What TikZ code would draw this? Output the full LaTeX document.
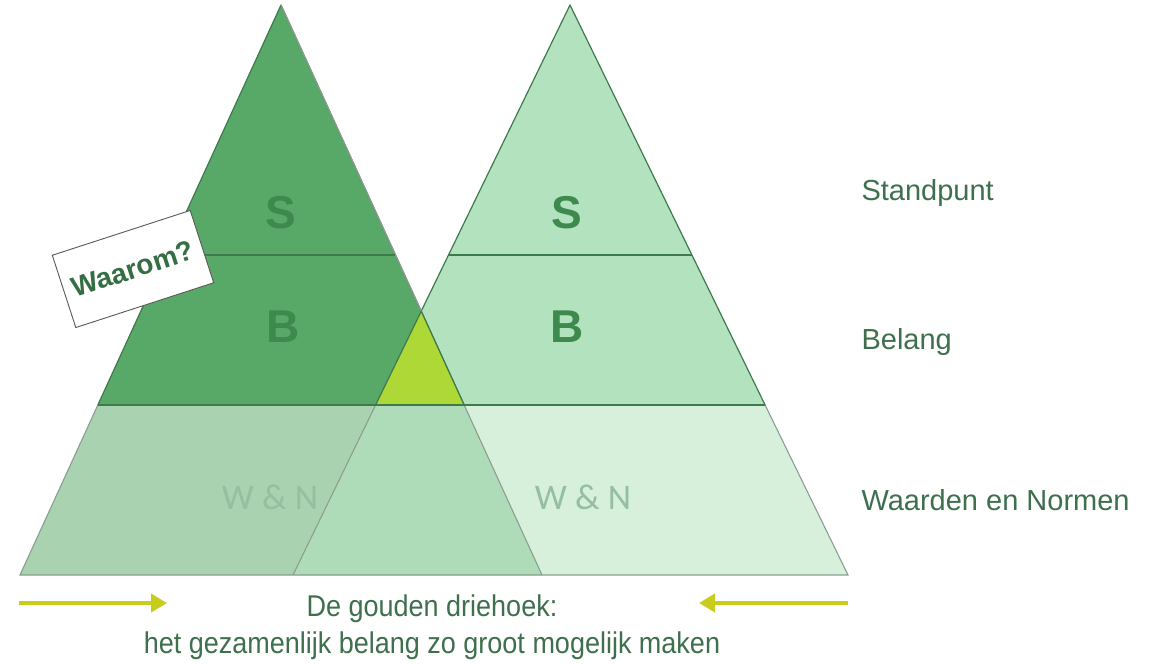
\documentclass[tikz,border=0pt]{standalone}
\usepackage{fontspec}
\setmainfont{Liberation Sans}
\newfontfamily\calibri{Carlito}
\usepackage{tikz}
\usetikzlibrary{arrows.meta,shapes,positioning,calc}
\usepackage{xcolor}
\definecolor{dgdark}{RGB}{88,168,104}
\definecolor{dglight}{RGB}{178,226,190}
\definecolor{dgpale}{RGB}{214,240,220}
\definecolor{dgmid}{RGB}{168,210,176}
\definecolor{dgover}{RGB}{174,220,184}
\definecolor{dggold}{RGB}{174,216,54}
\definecolor{dgline}{RGB}{63,122,76}
\definecolor{dggrey}{RGB}{140,158,145}
\definecolor{dgletter}{RGB}{62,138,78}
\definecolor{dgwhy}{RGB}{52,110,66}
\definecolor{dgwn}{RGB}{150,190,160}
\definecolor{dgtext}{RGB}{62,112,78}
\definecolor{dgyellow}{RGB}{200,204,26}
\tikzstyle{letter} = [font=\fontsize{46}{46}\selectfont\bfseries, text=dgletter]
\tikzstyle{wn} = [font=\calibri\fontsize{36}{36}\selectfont, text=dgwn]
\tikzstyle{side} = [font=\fontsize{29}{29}\selectfont, text=dgtext, anchor=west]
\tikzstyle{caption} = [font=\fontsize{30}{30}\selectfont, text=dgtext]
\tikzstyle{why} = [rectangle, draw=black!65, fill=white, line width=0.9pt, minimum width=145pt, minimum height=76pt, rotate=18, font=\fontsize{28}{28}\selectfont\bfseries, text=dgwhy]
\tikzstyle{layer} = [draw=dgline, line width=1.2pt, line join=round]
\tikzstyle{base} = [draw=dggrey, line width=1.1pt]
\tikzstyle{arrow} = [line width=4.5pt, -{Triangle[length=16pt,width=18pt]}, color=dgyellow]

\begin{document}
\begin{tikzpicture}[x=1pt,y=-1pt]
\fill[white] (0,0) rectangle (1165,664);
\useasboundingbox (0,0) rectangle (1165,664);

\coordinate (ltop) at (281,5);
\coordinate (lbl) at (20,575);
\coordinate (lbr) at (542,575);
\coordinate (rtop) at (570,5);
\coordinate (rbl) at (293,575);
\coordinate (rbr) at (848,575);
\coordinate (lsl) at ($(ltop)!0.4386!(lbl)$);
\coordinate (lsr) at ($(ltop)!0.4386!(lbr)$);
\coordinate (lwl) at ($(ltop)!0.7018!(lbl)$);
\coordinate (lwr) at ($(ltop)!0.7018!(lbr)$);
\coordinate (rsl) at ($(rtop)!0.4386!(rbl)$);
\coordinate (rsr) at ($(rtop)!0.4386!(rbr)$);
\coordinate (rwl) at ($(rtop)!0.7018!(rbl)$);
\coordinate (rwr) at ($(rtop)!0.7018!(rbr)$);
\coordinate (gtop) at (intersection of ltop--lbr and rtop--rbl);

\fill[dgmid] (lwl) -- (lwr) -- (lbr) -- (lbl) -- cycle;
\fill[dgpale] (rwl) -- (rwr) -- (rbr) -- (rbl) -- cycle;
\fill[dgover] (rwl) -- (lwr) -- (lbr) -- (rbl) -- cycle;
\draw[base] (lwl) -- (lbl) -- (rbr) -- (rwr);
\draw[base] (rwl) -- (rbl);
\draw[base] (lwr) -- (lbr);

\filldraw[layer, fill=dglight] (rtop) -- (rwl) -- (rwr) -- cycle;
\filldraw[layer, fill=dgdark] (ltop) -- (lwl) -- (lwr) -- cycle;
\draw[layer, draw=dggrey] (ltop) -- (gtop);
\filldraw[layer, fill=dggold] (gtop) -- (rwl) -- (lwr) -- cycle;
\draw[layer] (lsl) -- (lsr);
\draw[layer] (rsl) -- (rsr);
\draw[layer] (lwl) -- (rwr);

\node (ls) [letter] at (281,213) {S};
\node (lb) [letter] at (283,327) {B};
\node (rs) [letter] at (567,213) {S};
\node (rb) [letter] at (567,327) {B};
\node (lwn) [wn] at (270,497) {W \& N};
\node (rwn) [wn] at (583,497) {W \& N};

\node (waarom) [why] at (133,269) {Waarom?};

\node (standpunt) [side] at (858,193) {Standpunt};
\node (belang) [side] at (858,342) {Belang};
\node (normen) [side] at (858,500) {Waarden en Normen};

\node (gold1) [caption] at (432,609) {\scalebox{0.9}[1]{De gouden driehoek:}};
\node (gold2) [caption] at (432,646) {\scalebox{0.9}[1]{het gezamenlijk belang zo groot mogelijk maken}};

\coordinate (al1) at (19,603);
\coordinate (al2) at (167,603);
\coordinate (ar1) at (848,603);
\coordinate (ar2) at (699,603);
\draw[arrow] (al1) -- (al2);
\draw[arrow] (ar1) -- (ar2);
\end{tikzpicture}
\end{document}
